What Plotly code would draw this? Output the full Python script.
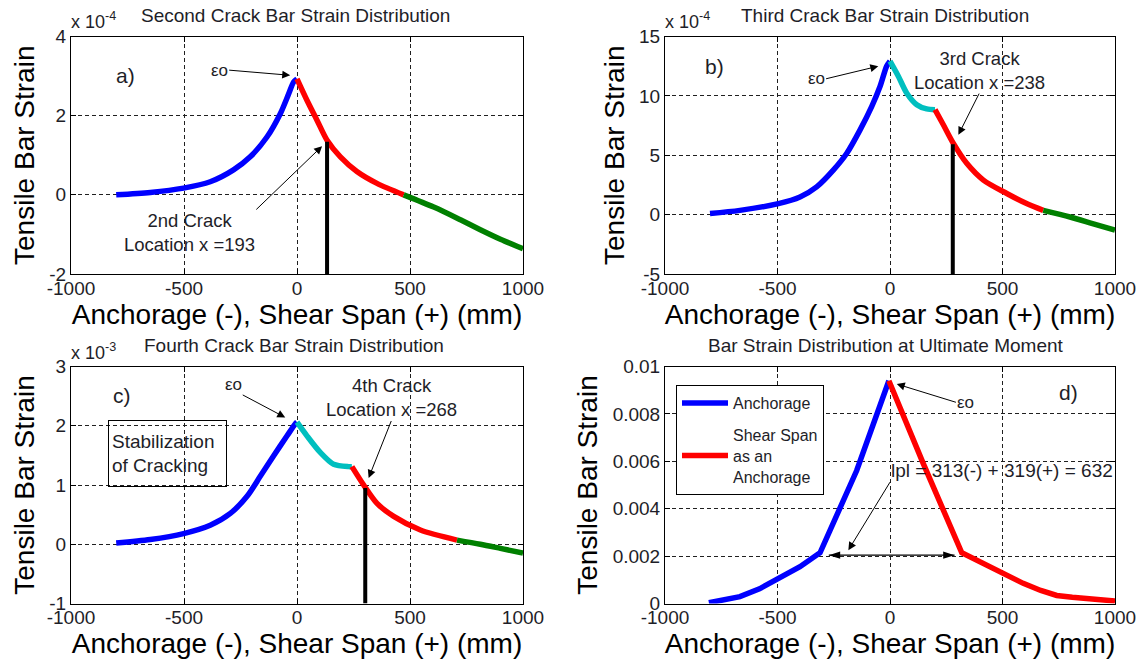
import plotly.graph_objects as go

# ---------------- data ----------------
X_TICKS = [-1000, -500, 0, 500, 1000]
X_TICK_LABELS = ["-1000", "-500", "0", "500", "1000"]

# a) Second crack (strain x 1e-4)
a_blue_x = [-800, -649, -502, -384, -281, -207, -133, -74, -37, -15, 0]
a_blue_y = [0.0, 0.06, 0.17, 0.33, 0.63, 0.96, 1.46, 2.05, 2.55, 2.85, 2.93]
a_red_x = [0, 44, 89, 133, 192, 265, 354, 472]
a_red_y = [2.93, 2.39, 1.88, 1.38, 0.96, 0.59, 0.29, 0.0]
a_green_x = [472, 605, 723, 811, 900, 1000]
a_green_y = [0.0, -0.31, -0.63, -0.88, -1.12, -1.36]
a_crack_x = [133, 133]
a_crack_y = [-2, 1.34]
a_y_ticks = [-2, 0, 2, 4]

# b) Third crack (strain x 1e-4)
b_blue_x = [-800, -667, -496, -400, -326, -252, -192, -133, -81, -44, -15, 0]
b_blue_y = [0.1, 0.36, 0.93, 1.49, 2.34, 3.75, 5.17, 7.14, 9.12, 10.81, 12.5, 12.93]
b_cyan_x = [0, 37, 74, 119, 163, 200]
b_cyan_y = [12.93, 11.66, 10.25, 9.26, 8.9, 8.84]
b_red_x = [200, 237, 281, 341, 415, 519, 607, 681]
b_red_y = [8.84, 7.57, 6.02, 4.32, 2.91, 1.78, 0.93, 0.36]
b_green_x = [681, 800, 900, 1000]
b_green_y = [0.36, -0.2, -0.75, -1.3]
b_crack_x = [279, 279]
b_crack_y = [-5, 5.93]
b_y_ticks = [-5, 0, 5, 10, 15]

# c) Fourth crack (strain x 1e-3)
c_blue_x = [-800, -649, -502, -384, -295, -221, -162, -104, -44, -8, 0]
c_blue_y = [0.02, 0.08, 0.18, 0.32, 0.52, 0.81, 1.15, 1.49, 1.83, 2.03, 2.06]
c_cyan_x = [0, 44, 103, 162, 228, 243]
c_cyan_y = [2.06, 1.83, 1.55, 1.35, 1.31, 1.31]
c_red_x = [243, 295, 354, 428, 546, 708]
c_red_y = [1.31, 1.0, 0.69, 0.47, 0.24, 0.07]
c_green_x = [708, 811, 900, 1000]
c_green_y = [0.07, 0.0, -0.07, -0.15]
c_crack_x = [302, 302]
c_crack_y = [-1, 0.95]
c_y_ticks = [-1, 0, 1, 2, 3]

# d) Ultimate moment (strain)
d_anch_x = [-805, -735, -667, -580, -504, -400, -311, -148, -5]
d_anch_y = [0.00003, 0.00015, 0.00029, 0.00062, 0.00099, 0.00155, 0.00214, 0.00561, 0.0094]
d_shear_x = [-5, 148, 319, 380, 444, 520, 592, 670, 741, 810, 878, 940, 1000]
d_shear_y = [0.0094, 0.0059, 0.00214, 0.00185, 0.00155, 0.00118, 0.00085, 0.00055, 0.00034,
             0.00026, 0.0002, 0.00015, 0.0001]
d_lpl_x = [-272, 287]          # plastic-hinge length arrow ends
d_lpl_y = [0.00204, 0.00204]
d_y_ticks = [0, 0.002, 0.004, 0.006, 0.008, 0.01]
d_y_tick_labels = ["0", "0.002", "0.004", "0.006", "0.008", "0.01"]

# ---------------- style ----------------
FONT = "Liberation Sans, Arial, Helvetica, sans-serif"
TXT = "#1e1e28"
BLUE, RED, CYAN, GREEN = "#0000FF", "#FF0000", "#00BFBF", "#008000"
LW = 5.5

fig = go.Figure()


def seg(x, y, color, xa, ya, name=None, show=False, width=LW, shape="spline"):
    line = dict(color=color, width=width, shape=shape)
    if shape == "spline":
        line["smoothing"] = 0.8
    fig.add_trace(go.Scatter(x=x, y=y, mode="lines", xaxis=xa, yaxis=ya, line=line,
                             name=name or "", showlegend=show,
                             legendgroup=name or None, hoverinfo="skip"))


seg(a_blue_x, a_blue_y, BLUE, "x", "y")
seg(a_red_x, a_red_y, RED, "x", "y")
seg(a_green_x, a_green_y, GREEN, "x", "y")
seg(a_crack_x, a_crack_y, "black", "x", "y", width=4, shape="linear")

seg(b_blue_x, b_blue_y, BLUE, "x2", "y2")
seg(b_cyan_x, b_cyan_y, CYAN, "x2", "y2")
seg(b_red_x, b_red_y, RED, "x2", "y2")
seg(b_green_x, b_green_y, GREEN, "x2", "y2")
seg(b_crack_x, b_crack_y, "black", "x2", "y2", width=4, shape="linear")

seg(c_blue_x, c_blue_y, BLUE, "x3", "y3")
seg(c_cyan_x, c_cyan_y, CYAN, "x3", "y3")
seg(c_red_x, c_red_y, RED, "x3", "y3")
seg(c_green_x, c_green_y, GREEN, "x3", "y3")
seg(c_crack_x, c_crack_y, "black", "x3", "y3", width=4, shape="linear")

seg(d_anch_x, d_anch_y, BLUE, "x4", "y4", name="Anchorage", show=True, shape="linear")
seg(d_shear_x, d_shear_y, RED, "x4", "y4", name="Shear Span<br>as an<br>Anchorage", show=True,
    shape="linear")
fig.add_trace(go.Scatter(x=d_lpl_x, y=d_lpl_y, mode="lines+markers", xaxis="x4", yaxis="y4",
                         line=dict(color="black", width=1.3),
                         marker=dict(symbol="arrow", angle=[270, 90], size=12, color="black"),
                         showlegend=False, hoverinfo="skip"))

W, H = 1145, 664
XD_L = [71 / W, 523 / W]
XD_R = [665 / W, 1115 / W]
YD_T = [1 - 274 / H, 1 - 36.5 / H]
YD_B = [1 - 603.5 / H, 1 - 366.5 / H]


def xaxis(domain, anchor):
    return dict(domain=domain, anchor=anchor, range=[-1000, 1000], automargin=False,
                tickvals=X_TICKS, ticktext=X_TICK_LABELS, ticklabelstandoff=-3,
                showline=True, linecolor="black", linewidth=1, mirror="ticks",
                ticks="inside", ticklen=5, tickcolor="black",
                showgrid=True, gridcolor="#202020", gridwidth=1, griddash="4px,3px",
                zeroline=False, tickfont=dict(size=19, color=TXT, family=FONT),
                title=dict(text="Anchorage (-), Shear Span (+) (mm)", standoff=0,
                           font=dict(size=28, color="black", family=FONT)))


def yaxis(domain, anchor, rng, tv, tt=None):
    return dict(domain=domain, anchor=anchor, range=rng, tickvals=tv, automargin=False,
                ticktext=tt if tt else [str(v) for v in tv],
                showline=True, linecolor="black", linewidth=1, mirror="ticks",
                ticks="inside", ticklen=5, tickcolor="black",
                showgrid=True, gridcolor="#202020", gridwidth=1, griddash="4px,3px",
                zeroline=False, tickfont=dict(size=19, color=TXT, family=FONT),
                title=dict(text="Tensile Bar Strain", standoff=6,
                           font=dict(size=28, color="black", family=FONT)))


fig.update_layout(
    template="none",
    width=W, height=H, margin=dict(l=0, r=0, t=0, b=0, pad=0),
    paper_bgcolor="white", plot_bgcolor="white",
    font=dict(family=FONT, color=TXT),
    xaxis=xaxis(XD_L, "y"), yaxis=yaxis(YD_T, "x", [-2, 4], a_y_ticks),
    xaxis2=xaxis(XD_R, "y2"), yaxis2=yaxis(YD_T, "x2", [-5, 15], b_y_ticks),
    xaxis3=xaxis(XD_L, "y3"), yaxis3=yaxis(YD_B, "x3", [-1, 3], c_y_ticks),
    xaxis4=xaxis(XD_R, "y4"), yaxis4=yaxis(YD_B, "x4", [0, 0.01], d_y_ticks, d_y_tick_labels),
    legend=dict(x=676 / W, y=1 - 385 / H, xanchor="left", yanchor="top",
                bordercolor="black", borderwidth=1, bgcolor="white",
                font=dict(size=16, color=TXT, family=FONT),
                itemwidth=46, traceorder="grouped", tracegroupgap=8),
    showlegend=True,
)

ann = []


def text(x, y, s, xr, yr, size=18.5, xanchor="center", yanchor="middle", **kw):
    d = dict(x=x, y=y, text=s, xref=xr, yref=yr, showarrow=False,
             xanchor=xanchor, yanchor=yanchor,
             font=dict(size=size, color=TXT, family=FONT))
    d.update(kw)
    ann.append(d)


def pointer(s, tail_x, tail_y, head_x, head_y, xr, yr, xanchor, yanchor, size=18.5):
    """Text placed at the arrow tail, arrow drawn to the head."""
    ann.append(dict(x=head_x, y=head_y, ax=tail_x, ay=tail_y, xref=xr, yref=yr,
                    axref=xr, ayref=yr, text=s, showarrow=True, arrowhead=2,
                    arrowsize=1.6, arrowwidth=1, arrowcolor="black", standoff=0,
                    xanchor=xanchor, yanchor=yanchor, borderpad=0,
                    font=dict(size=size, color=TXT, family=FONT)))


# panel titles and exponent labels
text(295 / W, 1 - 16 / H, "Second Crack Bar Strain Distribution", "paper", "paper", size=19)
text(885 / W, 1 - 16 / H, "Third Crack Bar Strain Distribution", "paper", "paper", size=19)
text(294 / W, 1 - 345 / H, "Fourth Crack Bar Strain Distribution", "paper", "paper", size=19)
text(886 / W, 1 - 345 / H, "Bar Strain Distribution at Ultimate Moment", "paper", "paper", size=19)
text(69 / W, 1 - 21 / H, "x 10<sup>-4</sup>", "paper", "paper", size=18, xanchor="left")
text(663 / W, 1 - 21 / H, "x 10<sup>-4</sup>", "paper", "paper", size=18, xanchor="left")
text(69 / W, 1 - 351 / H, "x 10<sup>-3</sup>", "paper", "paper", size=18, xanchor="left")

# a)
text(-760, 3.02, "a)", "x", "y", size=21)
pointer("εo", -300, 3.15, -30, 3.02, "x", "y", "right", "middle", size=17)
pointer("2nd Crack<br>Location x =193", -180, -0.37, 111, 1.23, "x", "y", "right", "top")

# b)
text(-778, 12.5, "b)", "x2", "y2", size=21)
pointer("εo", -284, 11.44, -52, 12.5, "x2", "y2", "right", "middle", size=17)
pointer("3rd Crack<br>Location x =238", 396, 10.19, 304, 6.72, "x2", "y2", "center", "bottom")

# c)
text(-774, 2.51, "c)", "x3", "y3", size=21)
pointer("εo", -240, 2.52, -52, 2.14, "x3", "y3", "right", "bottom", size=17)
pointer("4th Crack<br>Location x =268", 417, 2.08, 317, 1.12, "x3", "y3", "center", "bottom")
text(-574, 1.53, "Stabilization<br>of Cracking", "x3", "y3", size=19, align="left",
     bordercolor="black", borderwidth=1, borderpad=3, width=111, height=59,
     bgcolor="rgba(255,255,255,0)")

# d)
text(795, 0.00891, "d)", "x4", "y4", size=21)
pointer("εo", 293, 0.00849, 30, 0.00926, "x4", "y4", "left", "middle", size=17)
pointer("lpl = 313(-) + 319(+) = 632", 0, 0.00512, -185, 0.00225, "x4", "y4", "left", "bottom", size=19)

fig.update_layout(annotations=ann)

fig.write_html("out.html", config={"displayModeBar": False},
               post_script="document.body.style.margin='0';")
